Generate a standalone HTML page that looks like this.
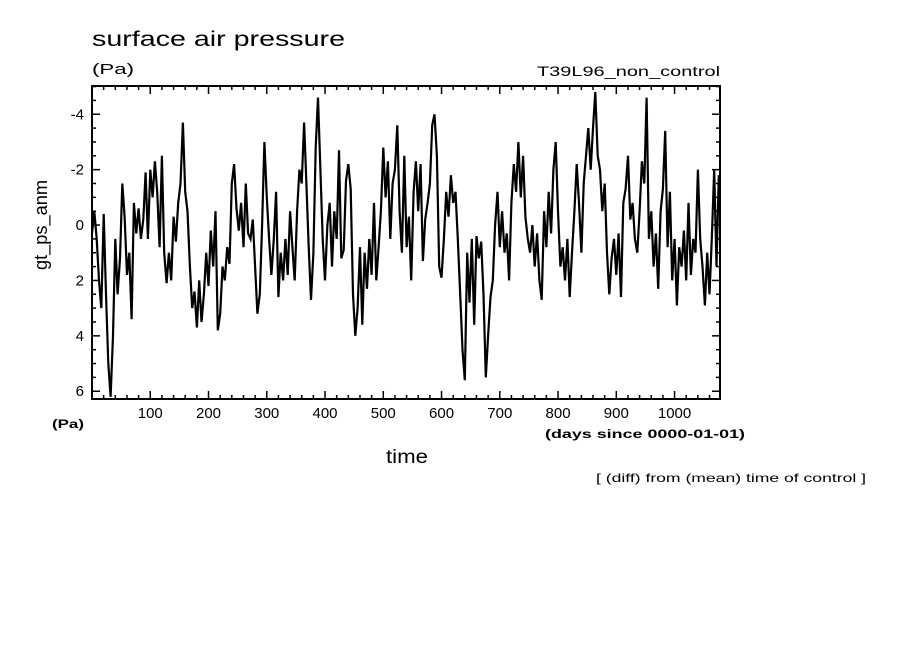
<!DOCTYPE html>
<html><head><meta charset="utf-8"><style>
body{margin:0;background:#fff;}
svg{display:block;font-family:"Liberation Sans",sans-serif;}
</style></head><body>
<svg id="chart" width="904" height="654" viewBox="0 0 904 654" xmlns="http://www.w3.org/2000/svg">
<rect width="904" height="654" fill="#fff"/>
<text x="92" y="46" font-size="21" textLength="253" lengthAdjust="spacingAndGlyphs">surface air pressure</text>
<text x="92" y="74" font-size="15" textLength="42" lengthAdjust="spacingAndGlyphs">(Pa)</text>
<text x="537" y="76" font-size="14" textLength="183" lengthAdjust="spacingAndGlyphs">T39L96_non_control</text>
<text transform="translate(47,225) rotate(-90)" font-size="18" text-anchor="middle" textLength="90" lengthAdjust="spacingAndGlyphs">gt_ps_anm</text>
<text x="52" y="428" font-size="12" font-weight="bold" textLength="32" lengthAdjust="spacingAndGlyphs">(Pa)</text>
<text x="545" y="438" font-size="12" font-weight="bold" textLength="200" lengthAdjust="spacingAndGlyphs">(days since 0000-01-01)</text>
<text x="386" y="463" font-size="19" textLength="42" lengthAdjust="spacingAndGlyphs">time</text>
<text x="596" y="482" font-size="12" textLength="270" lengthAdjust="spacingAndGlyphs">[ (diff) from (mean) time of control ]</text>
<g id="ticks"></g>
<path id="series" fill="none" stroke="#000" stroke-width="2.2" stroke-linejoin="miter"/>
<rect x="92" y="86" width="628" height="313" fill="none" stroke="#000" stroke-width="2"/>
</svg>
<script>
const xTickValues=[100,200,300,400,500,600,700,800,900,1000];
const yTickValues=[-4,-2,0,2,4,6];
const dayStep=4;
const values=[
0.3,-0.5,0.5,2.0,3.0,-0.4,2.5,5.0,6.2,4.0,0.5,2.5,1.2,-1.5,-0.3,1.8,1.0,3.4,-0.8,0.3,-0.6,0.5,-0.2,-1.9,0.5,
-2.0,-1.0,-2.3,-1.2,0.8,-2.5,1.0,2.1,1.0,2.0,-0.3,0.6,-0.8,-1.5,-3.7,-1.2,-0.5,1.5,3.0,2.4,3.7,2.0,3.5,2.5,1.0,
2.2,0.2,1.5,-0.5,3.8,3.2,1.5,2.0,0.8,1.4,-1.5,-2.2,-0.6,0.2,-0.8,0.8,-1.5,0.3,0.5,-0.2,1.5,3.2,2.5,0.0,-3.0,
-1.0,0.5,1.8,0.5,-1.2,2.6,1.0,2.0,0.5,1.8,-0.5,0.8,2.0,-0.5,-2.0,-1.5,-3.7,-1.5,0.8,2.7,1.0,-2.8,-4.6,-2.0,0.5,
2.0,0.0,-0.8,1.5,-0.5,0.5,-2.7,1.2,0.9,-1.6,-2.2,-1.3,2.5,4.0,3.0,0.8,3.6,1.0,2.3,0.5,1.8,-0.8,2.0,0.8,-0.5,
-2.8,-1.0,-2.3,0.5,-1.5,-2.0,-3.6,-0.5,1.0,-2.5,0.8,-0.3,2.0,-1.2,-2.3,-0.5,-2.2,1.3,-0.2,-0.8,-1.5,-3.6,-4.0,-2.5,1.5,
1.9,0.5,-1.2,-0.3,-1.8,-0.8,-1.2,0.5,2.5,4.5,5.6,1.0,2.8,0.5,3.6,0.4,1.2,0.6,2.5,5.5,4.0,2.6,2.0,0.0,-1.2,
0.8,-0.5,1.0,0.3,2.0,-0.8,-2.2,-1.2,-3.0,-1.0,-2.5,-0.3,0.5,1.0,0.0,1.5,0.3,2.0,2.7,-0.5,0.8,-1.2,0.3,-2.0,-3.0,
-0.5,1.5,0.8,2.0,0.5,2.6,1.0,-0.5,-2.2,-0.8,1.0,-1.5,-2.5,-3.5,-2.0,-3.5,-4.8,-2.5,-2.0,-0.5,-1.5,1.0,2.5,1.2,0.5,
1.8,0.3,2.6,-0.8,-1.3,-2.5,-0.2,-0.8,0.5,1.0,-0.5,-2.3,-1.5,-4.6,0.5,-0.5,1.5,0.3,2.3,-0.5,-1.3,-3.4,0.8,-1.2,2.0,
0.5,2.9,0.8,1.5,0.2,2.0,-0.8,1.8,0.5,1.0,-2.0,0.5,1.5,2.9,1.0,2.5,0.5,-2.0,1.5,-1.8
];
const X0=92,X1=720,Y0=86,Y1=399;
const DMIN=0,DMAX=1078,VMIN=-5.02,VMAX=6.28;
function xs(d){return X0+(d-DMIN)/(DMAX-DMIN)*(X1-X0);}
function ys(v){return Y0+(v-VMIN)/(VMAX-VMIN)*(Y1-Y0);}
const NS='http://www.w3.org/2000/svg';
const g=document.getElementById('ticks');
function line(x1,y1,x2,y2){const l=document.createElementNS(NS,'line');l.setAttribute('x1',x1);l.setAttribute('y1',y1);l.setAttribute('x2',x2);l.setAttribute('y2',y2);l.setAttribute('stroke','#000');l.setAttribute('stroke-width','1.5');


g.appendChild(l);}
function txt(x,y,s,anchor){const t=document.createElementNS(NS,'text');t.setAttribute('x',x);t.setAttribute('y',y);t.setAttribute('font-size','15');t.setAttribute('text-anchor',anchor);t.textContent=s;


g.appendChild(t);}
for(let d=20;d<DMAX;d+=20){const x=xs(d);const major=d%100===0;const L=major?8:4;line(x,Y1,x,Y1-L);line(x,Y0,x,Y0+L);}
for(let v=-5;v<=6;v+=0.5){const y=ys(v);const major=Math.abs(v%2)===0;const L=major?8:4;line(X0,y,X0+L,y);line(X1,y,X1-L,y);}
xTickValues.forEach(d=>txt(xs(d),418,String(d),'middle'));
yTickValues.forEach(v=>txt(84,ys(v)+5,String(v),'end'));
let dstr='';
values.forEach((v,i)=>{dstr+=(i?'L':'M')+xs(i*dayStep).toFixed(1)+' '+ys(v).toFixed(1);});
document.getElementById('series').setAttribute('d',dstr);
</script>
</body></html>
